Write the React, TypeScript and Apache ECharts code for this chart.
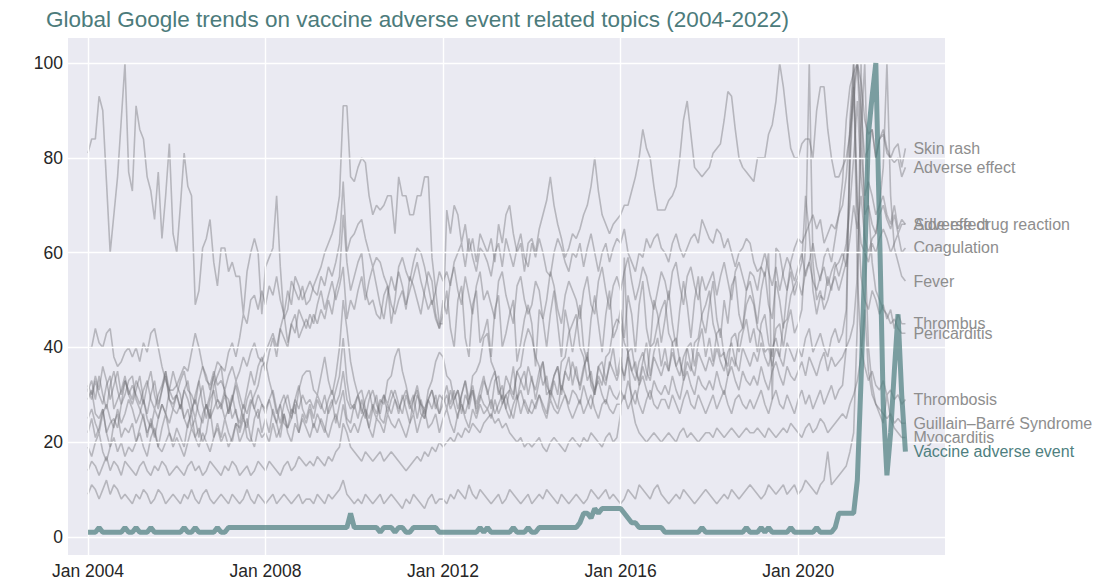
import React, { useEffect, useRef } from "react";
import * as echarts from "echarts";

// Monthly Google Trends values, Jan 2004 .. Jun 2022 (222 months)
const skinRash = [
  81,84,84,93,90,75,60,68,76,88,100,77,
  73,91,86,84,76,73,67,77,63,72,83,64,
  60,70,81,74,72,49,52,61,63,67,58,53,
  61,61,56,58,55,55,47,56,60,63,60,47,
  57,59,61,72,57,46,48,54,52,50,53,49,
  50,53,55,57,60,62,64,67,72,91,91,76,
  75,78,80,79,72,68,70,69,70,72,72,64,
  76,72,72,68,68,72,72,76,76,59,52,45,
  45,69,64,70,68,62,66,60,63,58,64,62,
  60,63,58,66,62,68,70,64,60,62,56,62,
  63,60,65,68,71,76,70,66,63,59,61,64,
  63,65,68,70,74,80,73,68,66,64,66,67,
  68,70,70,73,76,80,86,82,80,74,69,69,
  69,71,72,74,80,88,92,85,78,77,76,77,
  78,81,82,83,88,94,93,86,80,78,77,76,
  75,80,80,80,85,87,92,100,95,88,82,80,
  80,83,84,84,80,90,95,95,86,80,76,76,
  78,80,85,92,100,96,88,85,86,80,84,86,
  82,80,82,83,78,82,
];
const adverseEffect = [
  31,29,33,30,28,32,34,27,29,31,34,30,
  32,30,28,31,33,29,27,30,32,35,31,29,
  30,33,35,31,30,28,33,36,34,31,34,37,
  36,35,39,41,38,42,47,45,50,51,48,52,
  49,53,51,55,50,47,52,49,55,53,50,52,
  54,52,51,55,53,57,55,58,62,75,60,63,
  64,66,67,63,60,57,59,58,55,53,45,50,
  57,59,56,54,58,61,60,57,53,49,52,56,
  54,56,53,58,60,62,57,63,59,56,61,60,
  58,55,60,62,57,63,60,57,61,64,59,57,
  62,59,63,60,56,55,60,63,61,58,56,60,
  59,62,57,61,64,60,56,60,62,58,61,63,
  62,65,60,58,56,60,59,63,61,63,64,61,
  60,58,62,64,61,59,61,63,64,62,67,65,
  63,62,65,64,61,63,60,57,60,61,63,62,
  58,56,57,55,60,29,61,60,55,52,58,61,
  63,62,64,66,68,65,67,62,64,66,65,68,
  70,76,86,95,100,90,80,82,86,80,84,85,
  81,80,79,80,76,78,
];
const sideEffect = [
  40,40,44,41,40,43,44,38,36,37,39,40,
  38,40,37,41,39,43,44,40,36,33,31,31,
  32,34,36,35,39,43,40,36,33,32,35,32,
  33,31,34,36,33,35,38,36,39,41,38,37,
  39,41,43,40,44,42,40,45,47,42,44,46,
  44,47,45,48,46,50,47,52,55,68,58,52,
  55,58,60,52,49,50,47,46,51,53,49,47,
  50,52,48,55,53,50,47,52,56,54,47,44,
  50,47,54,57,52,49,55,51,47,53,56,50,
  52,49,46,54,56,51,48,45,53,55,50,47,
  49,54,52,46,50,56,53,48,45,51,54,52,
  50,46,52,55,49,47,54,57,52,48,53,55,
  52,56,59,54,50,53,57,55,51,48,52,56,
  54,50,56,58,53,49,55,57,53,50,55,52,
  54,56,51,55,58,54,50,56,58,55,52,56,
  55,52,57,60,56,53,57,52,56,59,57,54,
  57,60,55,58,62,57,54,59,61,58,63,68,
  75,88,95,98,100,82,72,75,72,68,70,72,
  68,66,70,65,67,66,
];
const adverseDrugReaction = [
  32,30,34,31,36,33,29,32,35,30,33,31,
  29,33,31,28,32,35,30,27,31,34,29,28,
  30,27,31,29,26,30,33,28,25,29,31,27,
  28,31,26,29,33,30,27,31,35,32,36,38,
  35,39,42,38,44,47,41,45,43,48,46,44,
  47,45,49,52,48,51,54,50,53,57,46,50,
  48,52,55,50,54,57,53,49,46,51,55,52,
  56,53,49,52,55,58,54,51,48,50,46,44,
  47,52,44,40,50,53,42,38,49,52,41,43,
  46,38,48,51,40,43,47,50,37,41,46,49,
  45,36,48,46,40,47,52,45,38,48,44,39,
  44,49,40,37,46,51,45,39,47,52,42,44,
  48,42,51,47,39,49,54,44,40,50,47,41,
  46,52,45,40,48,54,49,42,50,55,46,43,
  49,54,46,42,50,45,53,55,47,44,52,54,
  50,45,52,56,49,46,54,50,44,52,56,51,
  54,51,56,58,54,52,55,57,53,56,58,55,
  58,62,70,80,92,76,68,70,66,64,68,70,
  67,65,68,64,66,66,
];
const coagulation = [
  22,25,21,23,27,22,19,24,26,21,23,22,
  24,20,23,26,21,25,22,19,23,26,22,20,
  23,21,19,24,26,21,23,20,22,27,21,24,
  21,25,22,20,24,23,26,21,20,25,27,22,
  25,22,27,24,21,26,23,25,28,22,26,24,
  27,23,26,24,22,27,29,24,28,31,25,24,
  28,25,29,26,23,27,30,25,24,28,26,29,
  26,30,27,24,29,31,26,25,29,27,30,26,
  30,27,31,28,25,30,33,27,31,26,29,33,
  31,27,33,34,28,30,31,36,29,33,35,30,
  34,29,33,37,30,31,34,36,30,35,38,32,
  36,31,35,39,32,30,36,37,33,36,40,34,
  38,33,39,40,35,33,37,41,34,39,42,36,
  40,35,41,42,37,34,40,41,36,41,44,38,
  42,37,43,44,38,36,42,43,39,43,46,41,
  44,39,45,47,41,38,44,45,40,45,48,43,
  45,48,62,100,58,50,52,48,50,53,55,52,
  55,58,78,95,70,62,60,58,62,60,63,65,
  63,60,62,64,60,61,
];
const fever = [
  29,31,26,25,27,22,24,25,23,28,30,33,
  34,29,27,25,22,24,21,25,28,26,31,35,
  32,30,25,27,23,25,21,26,28,25,32,34,
  36,30,29,25,27,22,25,23,28,30,32,36,
  37,33,30,26,28,24,23,27,26,31,34,35,
  35,31,30,34,38,33,30,34,40,50,44,37,
  33,30,31,27,25,28,26,29,28,33,34,38,
  40,35,32,28,30,25,29,26,31,33,37,39,
  38,34,33,29,31,26,30,28,34,35,37,42,
  43,37,35,30,32,27,31,29,35,36,41,44,
  42,38,36,32,34,29,33,30,37,38,43,45,
  47,40,38,33,35,30,34,32,38,39,44,46,
  45,41,39,35,37,32,36,33,40,41,45,48,
  50,43,41,36,38,33,37,35,41,42,47,49,
  52,45,42,38,39,34,38,36,43,44,49,51,
  49,44,43,39,40,36,40,38,45,46,51,53,
  55,58,72,64,52,47,51,50,55,52,57,58,
  60,57,63,70,65,72,63,60,63,64,70,78,
  100,72,61,58,55,54,
];
const thrombus = [
  31,33,29,34,30,27,32,35,31,28,33,30,
  28,31,34,29,26,30,33,28,31,35,29,27,
  30,27,31,33,28,25,29,32,27,30,34,29,
  27,30,26,29,32,28,25,29,31,27,30,28,
  26,29,31,27,24,28,30,26,29,32,27,25,
  28,25,29,27,30,26,28,31,34,42,33,28,
  27,30,26,29,31,27,25,28,30,26,29,31,
  28,26,30,27,29,32,28,25,29,31,27,30,
  29,32,28,31,27,30,33,29,32,28,31,34,
  30,33,35,31,29,34,32,30,35,33,31,36,
  33,31,35,37,32,30,34,36,31,35,33,37,
  34,32,36,38,33,31,36,34,32,37,35,33,
  36,34,38,35,33,37,39,35,33,38,36,34,
  37,35,39,36,34,38,40,36,34,39,37,35,
  38,36,40,37,35,39,41,37,35,40,38,36,
  39,37,41,38,36,40,42,38,36,41,39,37,
  40,38,42,44,39,41,43,40,38,42,44,41,
  43,48,80,100,70,55,50,48,52,50,47,49,
  46,48,44,47,45,45,
];
const pericarditis = [
  19,17,20,22,18,16,19,21,18,20,17,19,
  18,20,22,19,17,21,23,19,18,20,22,19,
  21,19,17,20,23,21,19,22,20,18,21,23,
  20,22,19,21,24,20,22,25,21,19,23,21,
  22,20,24,21,23,26,22,20,24,22,25,23,
  21,24,22,25,23,21,24,26,23,28,24,22,
  24,22,25,27,23,21,25,24,22,26,24,23,
  25,23,21,24,26,22,25,27,23,24,26,22,
  25,27,24,22,26,28,25,23,27,25,28,26,
  27,25,29,26,28,30,27,25,29,31,28,26,
  29,27,30,28,26,31,29,27,32,30,28,31,
  30,28,32,29,27,31,33,30,28,32,30,29,
  31,29,33,30,28,32,34,31,29,33,31,30,
  32,30,34,31,29,33,35,32,30,34,32,31,
  33,31,35,32,30,34,36,33,31,35,33,32,
  34,32,36,33,31,35,37,34,32,36,34,33,
  35,37,34,38,36,34,37,39,35,38,36,37,
  38,40,42,45,55,85,100,70,58,52,50,48,
  47,45,46,44,43,43,
];
const thrombosis = [
  25,27,24,22,26,28,25,23,27,24,26,29,
  27,24,26,29,25,23,27,25,28,26,24,27,
  26,28,25,23,27,29,26,24,28,25,27,29,
  28,25,27,30,26,24,28,26,29,27,25,28,
  27,29,26,24,28,30,27,25,29,27,30,28,
  29,27,30,28,26,29,31,28,30,35,29,27,
  28,30,27,25,29,31,28,26,30,28,31,29,
  27,29,31,28,26,30,28,27,29,31,28,26,
  28,30,27,29,31,28,26,29,31,27,30,28,
  27,29,26,28,30,27,25,28,30,26,29,27,
  26,28,30,27,25,29,27,26,28,30,27,25,
  27,29,26,28,30,27,25,28,29,27,26,28,
  28,30,27,29,31,28,26,29,31,28,27,29,
  29,27,30,28,26,29,31,28,27,30,28,26,
  28,30,27,29,31,28,26,29,30,28,27,29,
  27,29,31,28,26,29,31,28,27,30,28,26,
  29,31,28,30,27,29,31,28,30,32,29,31,
  32,40,88,100,55,40,36,33,35,32,31,33,
  30,31,29,30,28,29,
];
const guillainBarre = [
  14,16,15,13,15,17,14,16,15,13,16,15,
  14,13,15,16,14,13,15,14,16,15,13,14,
  15,14,13,15,16,14,15,13,14,16,15,14,
  13,15,14,16,15,13,14,15,13,14,16,15,
  14,16,15,14,13,15,16,14,15,17,16,15,
  16,15,17,16,15,17,16,18,19,24,22,19,
  18,17,16,18,17,16,17,18,16,17,18,17,
  16,15,14,15,16,17,16,18,17,19,18,20,
  19,20,21,20,22,21,23,22,24,23,22,24,
  25,26,24,25,23,24,22,21,20,21,19,20,
  19,20,21,19,18,20,21,20,19,18,20,21,
  20,19,21,20,22,21,20,19,21,22,20,21,
  26,59,38,28,24,22,21,20,21,22,21,20,
  21,22,21,20,22,23,21,22,21,20,21,22,
  22,21,23,22,21,22,23,22,21,22,23,22,
  22,23,22,21,23,22,21,22,23,22,24,23,
  22,21,23,24,22,23,25,24,22,23,24,25,
  26,25,28,30,33,38,48,35,30,28,27,26,
  25,26,24,25,24,24,
];
const myocarditis = [
  9,11,10,8,10,12,9,11,10,8,9,8,
  7,9,8,10,9,7,8,10,9,7,8,9,
  8,7,9,8,10,8,7,9,10,8,7,8,
  9,8,7,9,8,7,8,10,8,7,9,8,
  7,8,9,7,8,9,8,7,8,9,7,8,
  8,7,9,8,7,9,8,9,10,12,9,8,
  7,8,7,9,8,7,8,9,7,8,9,8,
  7,6,8,7,9,8,7,6,8,9,7,8,
  8,7,9,8,10,9,8,11,9,8,10,9,
  8,7,8,9,7,8,10,9,8,7,8,9,
  7,8,9,8,10,9,8,7,9,8,7,8,
  9,8,7,8,10,9,8,9,10,8,9,8,
  7,8,10,9,8,11,10,9,8,10,11,9,
  8,7,8,9,8,10,9,8,7,8,9,10,
  9,8,7,8,9,8,10,9,8,9,10,11,
  10,9,8,9,11,10,9,10,11,9,10,11,
  9,10,12,11,10,9,11,12,18,11,12,13,
  14,15,18,22,45,100,62,40,32,28,26,24,
  30,25,23,22,21,21,
];
const vaccineAdverseEvent = [
  1,1,1,2,1,1,1,1,1,1,2,1,
  1,2,1,1,1,2,1,1,1,1,1,1,
  1,1,2,1,1,2,1,1,1,1,1,2,
  1,1,2,2,2,2,2,2,2,2,2,2,
  2,2,2,2,2,2,2,2,2,2,2,2,
  2,2,2,2,2,2,2,2,2,2,2,5,
  2,2,2,2,2,2,2,1,2,2,2,1,
  2,2,1,1,2,2,2,2,2,2,2,1,
  1,1,1,1,1,1,1,1,1,1,2,1,
  2,1,1,1,1,1,1,2,1,1,1,2,
  1,1,2,2,2,2,2,2,2,2,2,2,
  2,3,5,5,4,6,5,6,6,6,6,6,
  6,5,4,3,3,2,2,2,2,2,2,2,
  1,1,1,1,1,1,1,1,1,1,2,1,
  1,1,1,1,1,1,1,1,1,1,2,1,
  1,1,2,1,2,1,1,1,1,1,2,1,
  1,1,1,1,1,2,1,1,1,1,2,5,
  5,5,5,5,12,33,58,85,93,100,65,28,
  13,22,35,47,30,18,
];

const seriesNames = [
  "Skin rash",
  "Adverse effect",
  "Side effect",
  "Adverse drug reaction",
  "Coagulation",
  "Fever",
  "Thrombus",
  "Pericarditis",
  "Thrombosis",
  "Guillain–Barré Syndrome",
  "Myocarditis",
];
const seriesValues = [
  skinRash,
  adverseEffect,
  sideEffect,
  adverseDrugReaction,
  coagulation,
  fever,
  thrombus,
  pericarditis,
  thrombosis,
  guillainBarre,
  myocarditis,
];
const highlightName = "Vaccine adverse event";
const startYear = 2004; // month index 0 = Jan 2004
const yTicks = [0, 20, 40, 60, 80, 100];
const xTickYears = [2004, 2008, 2012, 2016, 2020];
const xTickLabels = ["Jan 2004", "Jan 2008", "Jan 2012", "Jan 2016", "Jan 2020"];

const FONT = "'Liberation Sans', Arial, sans-serif";

export default function App() {
  const ref = useRef<HTMLDivElement>(null);
  useEffect(() => {
    if (!ref.current) return;
    const chart = echarts.init(ref.current, undefined, { renderer: "svg" });
    const xTicks = xTickYears.map((y) => (y - startYear) * 12);
    const toData = (arr: number[]) => arr.map((v, i) => [i, v]);

    const greySeries = seriesNames.map((name, k) => ({
      name,
      type: "line",
      data: toData(seriesValues[k]),
      showSymbol: false,
      symbol: "none",
      z: 3,
      lineStyle: { color: "rgba(105,105,110,0.40)", width: 1.6 },
      emphasis: { disabled: true },
      endLabel: {
        show: true,
        formatter: "{a}",
        color: "#8e8e8e",
        fontSize: 16,
        fontFamily: FONT,
        distance: 8,
      },
    }));

    chart.setOption({
      animation: false,
      backgroundColor: "#ffffff",
      textStyle: { fontFamily: FONT },
      title: {
        text: "Global Google trends on vaccine adverse event related topics (2004-2022)",
        left: 41,
        top: 3,
        textStyle: { fontSize: 22.5, fontWeight: "normal", color: "#4c7b7b", fontFamily: FONT },
      },
      grid: {
        left: 68,
        right: 152,
        top: 38,
        bottom: 31,
        show: true,
        backgroundColor: "#EAEAF2",
        borderWidth: 0,
      },
      xAxis: {
        type: "value",
        min: -5.4,
        max: 231.7,
        axisLine: { show: false },
        axisTick: { show: false, customValues: xTicks },
        splitLine: { show: false },
        axisLabel: {
          customValues: xTicks,
          formatter: (v: number) => xTickLabels[xTicks.indexOf(Math.round(v))] ?? "",
          color: "#262626",
          fontSize: 17.5,
          fontFamily: FONT,
          margin: 7,
          hideOverlap: false,
        },
      },
      yAxis: {
        type: "value",
        min: -3.8,
        max: 105.3,
        axisLine: { show: false },
        axisTick: { show: false, customValues: yTicks },
        splitLine: { show: false },
        axisLabel: {
          customValues: yTicks,
          color: "#262626",
          fontSize: 17.5,
          fontFamily: FONT,
          margin: 5,
        },
      },
      series: [
        {
          name: "grid",
          type: "line",
          data: [],
          z: 1,
          silent: true,
          markLine: {
            silent: true,
            symbol: "none",
            label: { show: false },
            lineStyle: { color: "#ffffff", width: 1.4, type: "solid" },
            emphasis: { disabled: true },
            data: [
              ...yTicks.map((v) => ({ yAxis: v })),
              ...xTicks.map((t) => ({ xAxis: t })),
            ],
          },
        },
        ...greySeries,
        {
          name: highlightName,
          type: "line",
          data: toData(vaccineAdverseEvent),
          showSymbol: false,
          symbol: "none",
          z: 5,
          lineStyle: { color: "#4f7f7f", width: 5, opacity: 0.72 },
          emphasis: { disabled: true },
          endLabel: {
            show: true,
            formatter: "{a}",
            color: "#4f7f7f",
            fontSize: 16,
            fontFamily: FONT,
            distance: 8,
          },
        },
      ],
    });
    return () => chart.dispose();
  }, []);
  return (
    <div
      ref={ref}
      style={{ position: "fixed", left: 0, top: 0, width: 1097, height: 586 }}
    />
  );
}
